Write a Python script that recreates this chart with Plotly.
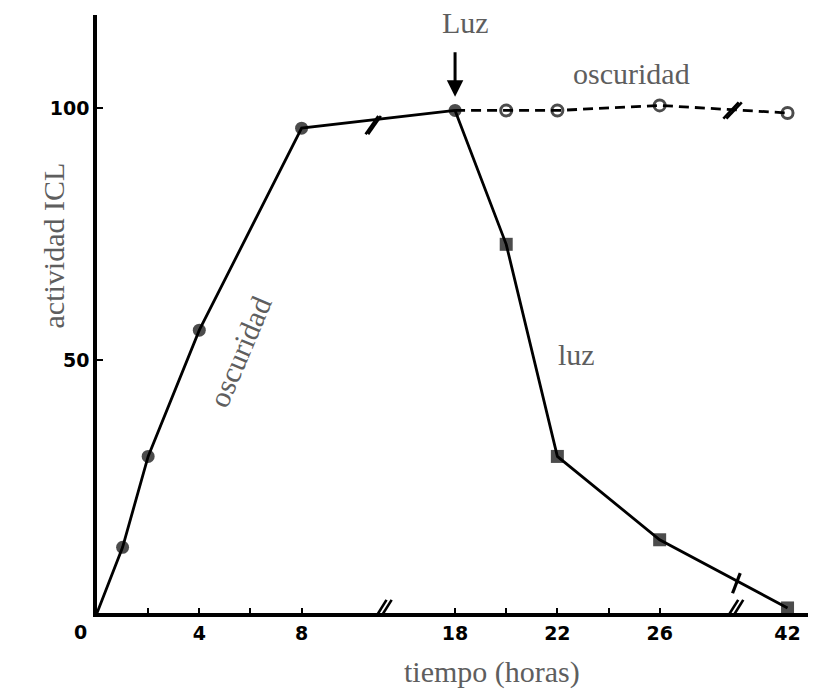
import plotly.graph_objects as go

# ---- data (time in hours, activity %) ----
dark_t = [0, 1, 2, 4, 8, 18]
dark_v = [0, 13, 31, 56, 96, 99.5]

dark2_t = [18, 20, 22, 26, 42]
dark2_v = [99.5, 99.5, 99.5, 100.5, 99]

light_t = [18, 20, 22, 26, 42]
light_v = [99.5, 73, 31, 14.5, 1]

x_tick_hours = [4, 8, 18, 22, 26, 42]
x_tick_labels = ["4", "8", "18", "22", "26", "42"]
x_minor_hours = [2, 4, 6, 8, 18, 20, 22, 24, 26]
y_tick_vals = [50, 100]
y_tick_labels = ["50", "100"]


def pos(t):
    """broken time axis: 8->18 and 26->42 gaps compressed"""
    if t <= 8:
        return t
    if t <= 26:
        return t - 4
    return t - 15


GRAY = "#5e5e5e"
SERIF = "Liberation Serif, Times New Roman, serif"
SANS = "DejaVu Sans, Arial, sans-serif"
TXT = 30

fig = go.Figure()

fig.add_trace(go.Scatter(
    x=[pos(t) for t in dark2_t], y=dark2_v, mode="lines+markers",
    line=dict(color="black", width=2.8, dash="10px,6px"),
    marker=dict(symbol="circle-open",
                size=[0] + [11] * (len(dark2_t) - 1), color="black",
                line=dict(width=3, color="black")),
    cliponaxis=False, showlegend=False))

fig.add_trace(go.Scatter(
    x=[pos(t) for t in light_t], y=light_v, mode="lines+markers",
    line=dict(color="black", width=2.8),
    marker=dict(symbol="square",
                size=[0] + [13] * (len(light_t) - 1), color="black",
                line=dict(width=0)),
    cliponaxis=False, showlegend=False))

fig.add_trace(go.Scatter(
    x=[pos(t) for t in dark_t], y=dark_v, mode="lines+markers",
    line=dict(color="black", width=2.8),
    marker=dict(symbol="circle", size=[0] + [13] * (len(dark_t) - 1), color="black",
                line=dict(width=0)),
    cliponaxis=False, showlegend=False))

# break marks (decorations)
shapes = []
def slash_pair(xc, yc, dx=0.28, dy=2.0, sep=0.16, w=2.6):
    for off in (-sep / 2, sep / 2):
        shapes.append(dict(type="line", xref="x", yref="y",
                           x0=xc + off - dx, y0=yc - dy, x1=xc + off + dx, y1=yc + dy,
                           line=dict(color="black", width=w)))

slash_pair(11.1, 0, dx=0.32, dy=2.6, sep=0.2)
slash_pair(24.85, 0, dx=0.32, dy=2.6, sep=0.2)
slash_pair(10.8, 96.6, dx=0.25, dy=1.8, sep=0.1)
slash_pair(24.85, 99.5, dx=0.3, dy=1.6, sep=0.12)
shapes.append(dict(type="line", xref="x", yref="y", x0=24.85, y0=3.9, x1=25.15, y1=7.9,
                   line=dict(color="black", width=3.2)))

annotations = [
    dict(x=pos(18), y=102.2, ax=0, ay=-46, xref="x", yref="y", text="",
         showarrow=True, arrowhead=2, arrowsize=1.1, arrowwidth=3, arrowcolor="black"),
    dict(x=14.4, y=117, xref="x", yref="y", text="Luz", showarrow=False,
         font=dict(family=SERIF, size=TXT, color=GRAY)),
    dict(x=20.9, y=106.9, xref="x", yref="y", text="oscuridad", showarrow=False,
         font=dict(family=SERIF, size=TXT, color=GRAY)),
    dict(x=18.75, y=51.1, xref="x", yref="y", text="luz", showarrow=False,
         font=dict(family=SERIF, size=TXT, color=GRAY)),
    dict(x=5.6, y=51.7, xref="x", yref="y", text="oscuridad", showarrow=False,
         textangle=-67, font=dict(family=SERIF, size=TXT, color=GRAY)),
    dict(x=0, y=0.5, xref="paper", yref="paper", text="actividad ICL", showarrow=False,
         textangle=-90, xshift=-63, yshift=68, font=dict(family=SERIF, size=TXT, color=GRAY)),
    dict(x=0.555, y=0, xref="paper", yref="paper", text="tiempo (horas)", showarrow=False,
         yanchor="middle", yshift=-59, font=dict(family=SERIF, size=TXT, color=GRAY)),
    dict(x=0, y=0, xref="x", yref="y", text="<b>0</b>", showarrow=False,
         xshift=-17, yshift=-19, font=dict(family=SANS, size=19, color="black")),
]

fig.update_layout(
    width=815, height=690,
    margin=dict(l=97, r=7, t=15, b=77),
    plot_bgcolor="white", paper_bgcolor="white",
    shapes=shapes, annotations=annotations,
    xaxis=dict(range=[0, 27.8], showgrid=False, zeroline=False,
               showline=True, linecolor="black", linewidth=3.5,
               tickvals=[pos(t) for t in x_tick_hours],
               ticktext=["<b>%s</b>" % s for s in x_tick_labels],
               ticks="", tickfont=dict(family=SANS, size=19, color="black"),
               minor=dict(tickvals=[pos(t) for t in x_minor_hours], ticks="inside",
                          ticklen=5, tickwidth=2, tickcolor="black"),
               fixedrange=True),
    yaxis=dict(range=[0, 118.4], showgrid=False, zeroline=False,
               showline=True, linecolor="black", linewidth=3.5,
               tickvals=y_tick_vals, ticktext=["<b>%s</b>" % s for s in y_tick_labels],
               ticks="inside", ticklen=6, tickwidth=2, tickcolor="black",
               tickfont=dict(family=SANS, size=19, color="black"),
               fixedrange=True),
)

fig.write_html("out.html")
